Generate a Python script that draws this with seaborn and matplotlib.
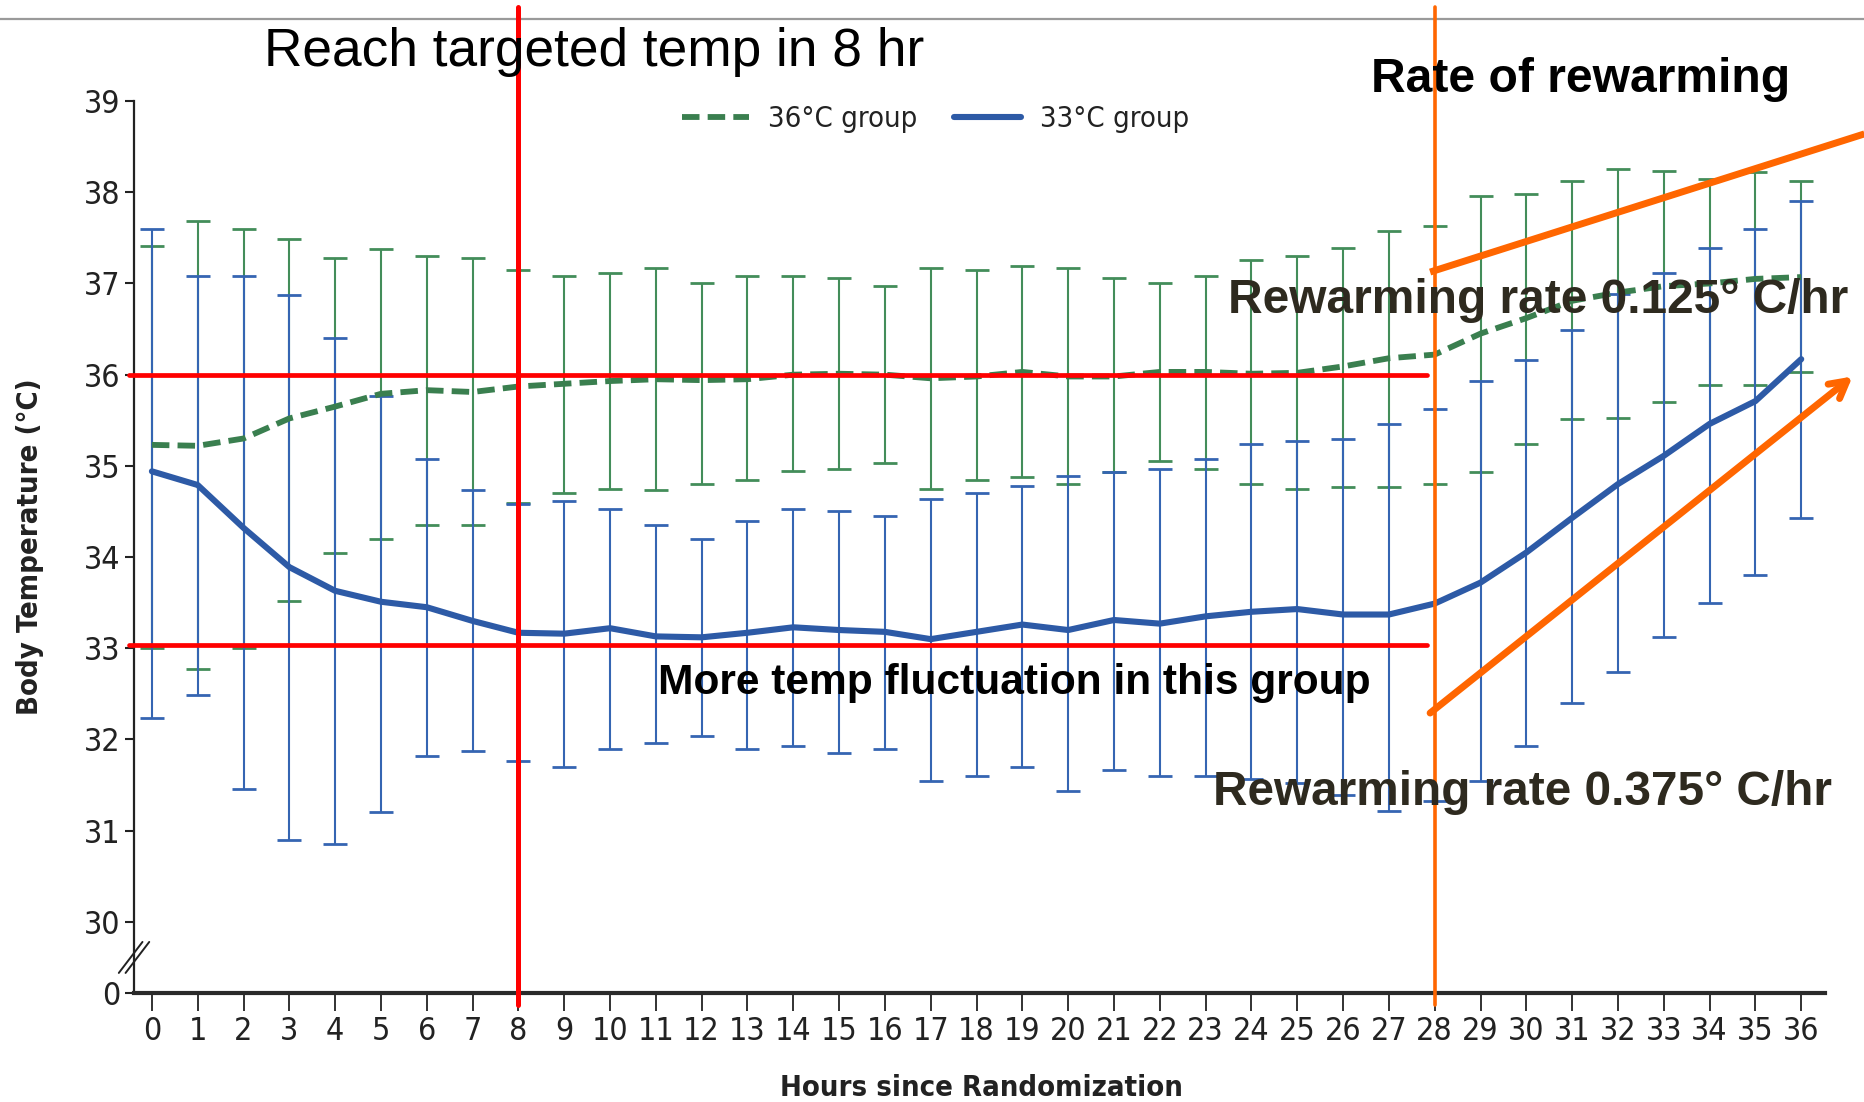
import numpy as np
import pandas as pd
import matplotlib
matplotlib.use("Agg")
import matplotlib.pyplot as plt
import seaborn as sns
from matplotlib.lines import Line2D
from matplotlib import font_manager as fm

# ---------------- data ----------------
hours = list(range(37))

g36_mean = [35.23, 35.22, 35.30, 35.52, 35.65, 35.79, 35.83, 35.81, 35.87, 35.90,
            35.93, 35.95, 35.94, 35.95, 36.00, 36.01, 36.00, 35.96, 35.98, 36.03,
            35.98, 35.98, 36.03, 36.03, 36.01, 36.02, 36.09, 36.18, 36.22, 36.45,
            36.62, 36.81, 36.90, 36.97, 37.00, 37.05, 37.07]
g36_upper = [37.41, 37.69, 37.60, 37.49, 37.28, 37.38, 37.30, 37.28, 37.15, 37.08,
             37.12, 37.17, 37.00, 37.08, 37.08, 37.06, 36.97, 37.17, 37.15, 37.19,
             37.17, 37.06, 37.00, 37.08, 37.26, 37.30, 37.39, 37.58, 37.63, 37.96,
             37.98, 38.12, 38.25, 38.23, 38.15, 38.22, 38.12]
g36_lower = [33.00, 32.77, 33.00, 33.52, 34.04, 34.20, 34.35, 34.35, 34.59, 34.70,
             34.75, 34.73, 34.80, 34.84, 34.94, 34.97, 35.03, 34.75, 34.84, 34.88,
             34.80, 34.93, 35.05, 34.97, 34.80, 34.75, 34.77, 34.77, 34.80, 34.93,
             35.24, 35.51, 35.53, 35.70, 35.89, 35.89, 36.03]

g33_mean = [34.94, 34.79, 34.32, 33.89, 33.63, 33.51, 33.45, 33.30, 33.17, 33.16,
            33.22, 33.13, 33.12, 33.17, 33.23, 33.20, 33.18, 33.10, 33.18, 33.26,
            33.20, 33.31, 33.27, 33.35, 33.40, 33.43, 33.37, 33.37, 33.49, 33.72,
            34.05, 34.43, 34.80, 35.11, 35.46, 35.71, 36.17]
g33_upper = [37.60, 37.08, 37.08, 36.87, 36.40, 35.77, 35.08, 34.73, 34.58, 34.62,
             34.53, 34.35, 34.20, 34.40, 34.53, 34.50, 34.45, 34.64, 34.70, 34.78,
             34.89, 34.93, 34.97, 35.08, 35.24, 35.27, 35.30, 35.46, 35.62, 35.93,
             36.16, 36.49, 36.88, 37.11, 37.39, 37.60, 37.90]
g33_lower = [32.24, 32.49, 31.46, 30.90, 30.85, 31.21, 31.82, 31.87, 31.76, 31.70,
             31.90, 31.96, 32.04, 31.90, 31.93, 31.85, 31.90, 31.55, 31.60, 31.70,
             31.43, 31.66, 31.60, 31.60, 31.57, 31.52, 31.39, 31.22, 31.33, 31.55,
             31.93, 32.40, 32.74, 33.12, 33.50, 33.80, 34.43]

group_names = ["36°C group", "33°C group"]
y_ticks = [30, 31, 32, 33, 34, 35, 36, 37, 38, 39]
y_break_value = 29.22     # position of the "0" tick below the axis break
target_hour = 8
rewarm_hour = 28
ref_temps = [36.0, 33.04]

# ---------------- style ----------------
sns.set_theme(style="white")
# prefer a condensed sans face if one is installed
cond = [f for f in fm.fontManager.ttflist
        if ("Narrow" in f.name or "Condensed" in f.name or f.stretch in ("condensed", "semi-condensed"))]
if any(f.name == "DejaVu Sans" for f in cond):
    plt.rcParams["font.family"] = ["DejaVu Sans"]
    plt.rcParams["font.stretch"] = "condensed"
elif cond:
    plt.rcParams["font.family"] = [cond[0].name, "DejaVu Sans"]
else:
    plt.rcParams["font.family"] = ["DejaVu Sans"]

GREEN = "#438d5a"
GREEN_LINE = "#3a7f4f"
BLUE = "#3565b2"
BLUE_LINE = "#2d5aa6"
RED = "#ff0000"
ORANGE = "#ff6600"
DARKTXT = "#2e2a1f"

fig = plt.figure(figsize=(18.64, 11.02), dpi=100)
ax = fig.add_axes([0.0719, 0.0989, 0.9072, 0.8094])

# error bars
ax.errorbar(hours, g36_mean,
            yerr=[np.array(g36_mean) - np.array(g36_lower), np.array(g36_upper) - np.array(g36_mean)],
            fmt="none", ecolor=GREEN, elinewidth=1.5, capsize=8.5, capthick=2.0, zorder=2)
ax.errorbar(hours, g33_mean,
            yerr=[np.array(g33_mean) - np.array(g33_lower), np.array(g33_upper) - np.array(g33_mean)],
            fmt="none", ecolor=BLUE, elinewidth=1.5, capsize=8.5, capthick=2.0, zorder=3)

df36 = pd.DataFrame({"hour": hours, "temp": g36_mean})
df33 = pd.DataFrame({"hour": hours, "temp": g33_mean})
sns.lineplot(data=df36, x="hour", y="temp", ax=ax, color=GREEN_LINE, linewidth=4.2,
             zorder=4)
ax.lines[-1].set_dashes((3.0, 1.4))
sns.lineplot(data=df33, x="hour", y="temp", ax=ax, color=BLUE_LINE, linewidth=4.4,
             zorder=5)

# axes limits / ticks
ax.set_xlim(-0.39, 36.52)
ax.set_ylim(y_break_value, 39)
ax.set_xticks(hours)
ax.set_xticklabels([str(h) for h in hours], fontsize=23, color="#222222")
ax.set_yticks([y_break_value] + y_ticks)
ax.set_yticklabels(["0"] + [str(t) for t in y_ticks], fontsize=23, color="#222222")
ax.tick_params(axis="x", direction="out", length=13, width=1.3, pad=3.5, colors="#222222",
               bottom=True)
ax.tick_params(axis="y", direction="out", length=6.5, width=1.5, pad=3.5, colors="#222222",
               left=True)

for s in ["top", "right"]:
    ax.spines[s].set_visible(False)
ax.spines["left"].set_color("#222222")
ax.spines["left"].set_linewidth(1.6)
ax.spines["bottom"].set_color("#2a2a2a")
ax.spines["bottom"].set_linewidth(3.0)

ax.set_xlabel("Hours since Randomization", fontsize=21, fontweight="bold", color="#222222")
ax.set_ylabel("Body Temperature (°C)", fontsize=21, fontweight="bold", color="#222222")
ax.xaxis.set_label_coords(0.501, -0.1065)
ax.xaxis.label.set_va("center")
ax.yaxis.set_label_coords(-0.0615, 0.5)
ax.yaxis.label.set_va("center")

# axis break marks
ytr = ax.get_yaxis_transform()
for dx in (0.0, 0.004):
    ax.add_line(Line2D([-0.009 + dx, 0.005 + dx], [29.44, 29.78], transform=ytr,
                       color="#222222", lw=1.4, clip_on=False, zorder=6))

# legend
handles = [Line2D([], [], color=GREEN_LINE, lw=4.2, dashes=(3.0, 1.4)),
           Line2D([], [], color=BLUE_LINE, lw=4.4)]
ax.legend(handles, group_names, loc="center", bbox_to_anchor=(0.474, 0.98), ncol=2,
          frameon=False, fontsize=21, handlelength=2.3, handletextpad=0.65,
          columnspacing=1.25, labelcolor="#222222")

# reference lines
xtr = ax.get_xaxis_transform()
ax.add_line(Line2D([target_hour, target_hour], [-0.0135, 1.106], transform=xtr,
                   color=RED, lw=3.6, clip_on=False, zorder=8))
for t in ref_temps:
    ax.add_line(Line2D([-0.5, 27.84], [t, t], color=RED, lw=3.4, clip_on=False, zorder=8))
ax.add_line(Line2D([rewarm_hour, rewarm_hour], [-0.0135, 1.106], transform=xtr,
                   color=ORANGE, lw=2.6, clip_on=False, zorder=8))

# rewarming rate indicators
ax.add_line(Line2D([27.90, 37.38], [37.125, 38.64], color=ORANGE, lw=5,
                   clip_on=False, zorder=9, solid_capstyle="butt"))
ax.annotate("", xy=(37.12, 35.98), xytext=(27.90, 32.29),
            arrowprops=dict(arrowstyle="->,head_length=1.0,head_width=0.55", color=ORANGE,
                            lw=5, shrinkA=0, shrinkB=0),
            annotation_clip=False, zorder=9)

# top slide border
fig.add_artist(Line2D([0, 1], [0.9828, 0.9828], transform=fig.transFigure,
                      color="#9a9a9a", lw=1.6, zorder=0))

# annotations text
W, H = 1864.0, 1102.0
arial = ["Liberation Sans", "DejaVu Sans"]
kw = dict(family=arial, va="baseline", ha="left", zorder=10, fontstretch="normal")
fig.text(264 / W, 1 - 66 / H, "Reach targeted temp in 8 hr", fontsize=38.3,
         color="black", **kw)
fig.text(1371 / W, 1 - 92 / H, "Rate of rewarming", fontsize=34.6, fontweight="bold",
         color="black", **kw)
fig.text(1228 / W, 1 - 313 / H, "Rewarming rate 0.125° C/hr", fontsize=34.5, fontweight="bold",
         color=DARKTXT, **kw)
fig.text(658 / W, 1 - 694 / H, "More temp fluctuation in this group", fontsize=30.6,
         fontweight="bold", color="black", **kw)
fig.text(1213 / W, 1 - 805 / H, "Rewarming rate 0.375° C/hr", fontsize=34.4, fontweight="bold",
         color=DARKTXT, **kw)

fig.savefig("out.png", dpi=100)
